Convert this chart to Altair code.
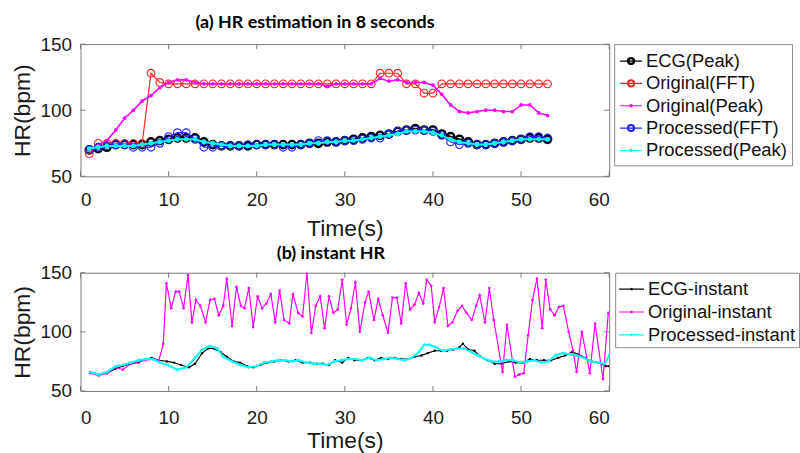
import altair as alt
import pandas as pd

# ---------------- (a) HR estimated over 8-second windows, one value per second
est_time = list(range(1, 54))
ecg_peak = [70, 71, 72, 74, 74, 74, 74, 76, 77, 78, 79, 79, 79, 76, 74, 73, 73, 73, 73, 74,
            74, 74, 74, 74, 74, 75, 75, 76, 76, 77, 78, 79, 80, 81, 82, 84, 85, 86, 85, 85,
            82, 80, 78, 76, 74, 74, 75, 76, 77, 78, 79, 79, 78]
orig_fft = [67, 75, 75, 75, 75, 75, 75, 128, 121, 120, 120, 120, 120, 120, 120, 120, 120, 120,
            120, 120, 120, 120, 120, 120, 120, 120, 120, 120, 120, 120, 120, 120, 120, 128, 128,
            128, 120, 120, 113, 113, 120, 120, 120, 120, 120, 120, 120, 120, 120, 120, 120, 120, 120]
orig_peak = [70, 73, 77, 85, 94, 100, 107, 111, 117, 121, 123, 123, 121, 120, 120, 120, 120, 120,
             120, 120, 120, 120, 120, 120, 120, 120, 120, 118, 120, 120, 120, 120, 120, 124, 122,
             123, 121, 121, 121, 119, 112, 104, 99, 98, 99, 100, 100, 99, 99, 104, 104, 98, 96]
proc_fft = [70, 72, 73, 74, 74, 72, 72, 72, 75, 80, 83, 83, 78, 72, 72, 73, 73, 73, 74, 74,
            74, 74, 72, 72, 74, 75, 77, 77, 76, 77, 77, 78, 79, 79, 82, 84, 85, 85, 85, 84,
            81, 76, 74, 75, 74, 74, 75, 76, 77, 78, 80, 80, 79]
proc_peak = [71, 72, 73, 73, 73, 73, 74, 75, 76, 77, 78, 78, 78, 76, 75, 74, 73, 73, 73, 73,
             74, 74, 74, 74, 74, 75, 75, 76, 76, 77, 77, 78, 79, 80, 81, 82, 84, 84, 84, 83,
             81, 78, 76, 75, 74, 74, 75, 76, 77, 78, 78, 78, 78]

# ---------------- (b) instantaneous HR, one value per detected beat
ecg_inst_t = [1.1, 2.1, 3.0, 4.0, 4.8, 5.7, 6.6, 7.4, 8.1, 8.9, 9.8, 10.6, 11.4, 12.3, 13.0,
              13.8, 14.5, 15.1, 15.9, 16.6, 17.4, 18.1, 18.9, 19.6, 20.4, 21.2, 22.0, 22.8,
              23.6, 24.4, 25.2, 26.0, 26.8, 27.5, 28.2, 28.9, 29.7, 30.4, 31.1, 31.9, 32.6,
              33.4, 34.1, 34.9, 35.6, 36.4, 37.2, 37.9, 38.7, 39.4, 40.2, 40.9, 41.6, 42.3,
              43.0, 43.4, 44.0, 44.7, 45.4, 46.2, 47.0, 47.8, 48.6, 49.4, 50.2, 51.0, 51.8,
              52.6, 53.4, 54.2, 55.0, 55.8, 56.5, 57.3, 58.0, 58.8, 59.6, 60.0]
ecg_inst = [66, 64, 65, 69, 71, 73, 74, 77, 78, 76, 75, 74, 72, 70, 73, 82, 86, 86, 83, 79,
            75, 74, 71, 70, 72, 74, 75, 76, 75, 76, 74, 74, 73, 73, 72, 76, 74, 78, 76, 76,
            78, 76, 78, 77, 78, 77, 77, 79, 80, 82, 84, 84, 84, 85, 87, 90, 85, 84, 79, 76,
            73, 73, 75, 74, 74, 77, 76, 76, 76, 78, 80, 83, 81, 78, 75, 74, 71, 71]

orig_inst_t = [1.1, 2.1, 3.0, 4.0, 4.8, 5.7, 6.6, 7.4, 8.3, 8.9, 9.4, 9.75, 10.3, 10.8, 11.2,
               11.7, 12.2, 12.65, 13.1, 13.6, 14.2, 14.7, 15.2, 15.7, 16.2, 16.6, 17.2, 17.7,
               18.2, 18.6, 19.1, 19.6, 20.1, 20.6, 21.1, 21.6, 22.1, 22.6, 23.1, 23.7, 24.1,
               24.7, 25.2, 25.7, 26.2, 26.7, 27.2, 27.7, 28.2, 28.7, 29.2, 29.7, 30.2, 30.7,
               31.2, 31.7, 32.3, 32.7, 33.3, 33.8, 34.3, 34.9, 35.4, 35.9, 36.4, 36.9, 37.4,
               37.9, 38.4, 38.9, 39.3, 39.8, 40.2, 40.7, 41.2, 41.7, 42.2, 42.8, 43.3, 43.8,
               44.4, 44.9, 45.3, 45.9, 46.4, 46.9, 47.9, 48.4, 49.3, 49.8, 50.3, 50.8, 51.3,
               51.8, 52.4, 52.8, 53.3, 53.8, 54.3, 54.8, 55.4, 55.9, 56.3, 56.9, 57.8, 58.4,
               59.3, 59.9]
orig_inst = [65, 63, 65, 70, 68, 73, 75, 76, 77, 76, 90, 141, 120, 134, 134, 120, 148, 108,
             127, 122, 108, 127, 128, 114, 122, 145, 105, 138, 122, 120, 137, 104, 130, 120,
             124, 132, 108, 135, 110, 107, 132, 116, 113, 150, 99, 122, 130, 103, 130, 116,
             119, 144, 106, 120, 142, 100, 125, 134, 110, 128, 114, 99, 129, 129, 107, 141,
             119, 123, 133, 124, 144, 139, 108, 121, 137, 105, 108, 118, 122, 116, 110, 122,
             131, 108, 137, 110, 66, 106, 62, 64, 65, 97, 127, 145, 103, 144, 119, 114, 121,
             122, 100, 84, 66, 100, 65, 107, 60, 116]

proc_inst_t = [1.1, 2.1, 3.0, 4.0, 4.9, 5.7, 6.6, 7.5, 8.2, 9.0, 9.9, 11.0, 12.0, 13.0, 13.8,
               14.7, 15.5, 16.2, 17.2, 18.1, 19.1, 20.0, 20.8, 21.6, 22.4, 23.2, 24.0, 24.8,
               25.6, 26.4, 27.2, 28.0, 28.8, 29.6, 30.4, 31.2, 32.0, 32.8, 33.6, 34.4, 35.2,
               36.0, 36.8, 37.6, 38.4, 39.0, 39.6, 40.3, 41.1, 41.9, 42.7, 43.5, 44.3, 45.1,
               45.9, 46.7, 47.5, 48.3, 49.1, 49.9, 50.7, 51.5, 52.3, 53.1, 53.9, 54.7, 55.5,
               56.3, 57.1, 57.9, 58.7, 59.5, 60.0]
proc_inst = [66, 64, 66, 71, 72, 74, 76, 77, 77, 74, 72, 68, 70, 78, 85, 88, 86, 79, 75, 72,
             70, 71, 74, 75, 76, 76, 75, 76, 74, 73, 73, 72, 75, 76, 77, 77, 76, 78, 76, 77,
             78, 77, 76, 78, 83, 89, 89, 87, 84, 85, 86, 86, 83, 80, 77, 75, 75, 76, 76, 74,
             75, 76, 74, 75, 80, 82, 81, 80, 78, 75, 74, 73, 80]

x_ticks = [0, 10, 20, 30, 40, 50, 60]
y_ticks = [50, 100, 150]

top_names = ["ECG(Peak)", "Original(FFT)", "Original(Peak)", "Processed(FFT)", "Processed(Peak)"]
top_values = [ecg_peak, orig_fft, orig_peak, proc_fft, proc_peak]
top_colors = ["#000000", "#ff2424", "#ff00ff", "#2424ff", "#00ffff"]

bot_names = ["ECG-instant", "Original-instant", "Processed-instant"]
bot_times = [ecg_inst_t, orig_inst_t, proc_inst_t]
bot_values = [ecg_inst, orig_inst, proc_inst]
bot_colors = ["#000000", "#ff00ff", "#00ffff"]

FONT = "Liberation Sans"
BORDER = "#7a7a7a"
W = 532
H_TOP = 133
H_BOT = 119


def ring_path(r_out, r_in):
    """Legend glyph: a horizontal line segment with a ring (annulus) in the middle."""
    outer = (f"M{r_out},0A{r_out},{r_out},0,1,1,{-r_out},0"
             f"A{r_out},{r_out},0,1,1,{r_out},0Z")
    inner = (f"M{r_in},0A{r_in},{r_in},0,1,0,{-r_in},0"
             f"A{r_in},{r_in},0,1,0,{r_in},0Z")
    return "M-1,0H1" + outer + inner


def dot_path(r):
    """Legend glyph: a horizontal line segment with a small dot in the middle."""
    return f"M-1,0H1M{r},0A{r},{r},0,1,1,{-r},0A{r},{r},0,1,1,{r},0Z"


top_df = pd.DataFrame([
    {"t": t, "hr": v, "series": name}
    for name, vals in zip(top_names, top_values)
    for t, v in zip(est_time, vals)
])
bot_df = pd.DataFrame([
    {"t": t, "hr": v, "series": name}
    for name, ts, vals in zip(bot_names, bot_times, bot_values)
    for t, v in zip(ts, vals)
])
xt_df = pd.DataFrame({"t": x_ticks})
yt_df = pd.DataFrame({"hr": y_ticks})


def axes_enc(xpad):
    x = alt.X("t:Q", scale=alt.Scale(domain=[0, 60], nice=False, zero=False),
              axis=alt.Axis(values=x_ticks, title="Time(s)", format="d",
                            labelPadding=xpad[0], titlePadding=xpad[1]))
    y = alt.Y("hr:Q", scale=alt.Scale(domain=[50, 150], nice=False, zero=False),
              axis=alt.Axis(values=y_ticks, title="HR(bpm)", format="d"))
    return x, y


def inner_ticks(height, xpad):
    """MATLAB-style inward ticks on all four sides of the box."""
    x, y = axes_enc(xpad)
    tl = 5
    top_t = alt.Chart(xt_df).mark_rule(color=BORDER, strokeWidth=1).encode(
        x=x, y=alt.value(0), y2=alt.value(tl))
    bot_t = alt.Chart(xt_df).mark_rule(color=BORDER, strokeWidth=1).encode(
        x=x, y=alt.value(height), y2=alt.value(height - tl))
    left_t = alt.Chart(yt_df).mark_rule(color=BORDER, strokeWidth=1).encode(
        y=y, x=alt.value(0), x2=alt.value(tl))
    right_t = alt.Chart(yt_df).mark_rule(color=BORDER, strokeWidth=1).encode(
        y=y, x=alt.value(W - tl), x2=alt.value(W))
    return [top_t, bot_t, left_t, right_t]


def panel(df, names, colors, styles, symbols, sym_size, legend_kw, height, title, xpad):
    x, y = axes_enc(xpad)
    color_scale = alt.Scale(domain=names, range=colors)
    legend = alt.Legend(title=None, **legend_kw)
    # legend-only layer: no rows, entries come from the explicit scale domains
    legend_layer = alt.Chart(df).transform_filter("false").mark_point(
        filled=True, opacity=1, strokeWidth=1.2, size=sym_size
    ).encode(
        x=x, y=y,
        color=alt.Color("series:N", scale=color_scale, legend=legend),
        shape=alt.Shape("series:N", scale=alt.Scale(domain=names, range=symbols), legend=legend),
    )
    layers = [legend_layer]
    for name, st in zip(names, styles):
        base = alt.Chart(df).transform_filter(alt.datum.series == name)
        col = alt.Color("series:N", scale=color_scale, legend=None)
        layers.append(base.mark_line(strokeWidth=st["lw"], clip=True).encode(
            x=x, y=y, color=col, order="t:Q"))
        layers.append(base.mark_point(
            shape="circle", filled=st["filled"], size=st["size"],
            strokeWidth=st["msw"], opacity=1, clip=True
        ).encode(x=x, y=y, color=col))
    layers += inner_ticks(height, xpad)
    return alt.layer(*layers).properties(width=W, height=height, title=title)


top_styles = [
    {"lw": 2.0, "filled": False, "size": 55, "msw": 2.4},
    {"lw": 1.2, "filled": False, "size": 60, "msw": 1.1},
    {"lw": 1.6, "filled": True, "size": 14, "msw": 1},
    {"lw": 1.2, "filled": False, "size": 60, "msw": 1.1},
    {"lw": 2.0, "filled": True, "size": 24, "msw": 1},
]
top_symbols = [ring_path(0.32, 0.22), ring_path(0.32, 0.24), dot_path(0.1),
               ring_path(0.32, 0.24), dot_path(0.1)]

bot_styles = [
    {"lw": 1.1, "filled": True, "size": 6, "msw": 1},
    {"lw": 1.2, "filled": True, "size": 7, "msw": 1},
    {"lw": 2.0, "filled": True, "size": 8, "msw": 1},
]
bot_symbols = [dot_path(0.06), dot_path(0.06), dot_path(0.06)]

legend_common = dict(labelFont=FONT, labelFontSize=18.5, labelColor="#111",
                     strokeColor="#8a8a8a", fillColor="white", labelOffset=3,
                     symbolStrokeWidth=1.2, orient="right")

top = panel(
    top_df, top_names, top_colors, top_styles, top_symbols, 484,
    dict(legend_common, padding=5, rowPadding=0.5, offset=5, symbolSize=484),
    H_TOP,
    alt.TitleParams("(a) HR estimation in 8 seconds", font="Lato", fontSize=18,
                    fontWeight="bold", color="#000", anchor="middle", frame="group",
                    dx=-30, offset=3),
    (14, 9),
)
bottom = panel(
    bot_df, bot_names, bot_colors, bot_styles, bot_symbols, 625,
    dict(legend_common, padding=3, rowPadding=0, offset=6, symbolSize=625),
    H_BOT,
    alt.TitleParams("(b) instant HR", font="Lato", fontSize=18,
                    fontWeight="bold", color="#000", anchor="middle", frame="group",
                    dx=-14, offset=1),
    (18, 2),
)

chart = alt.vconcat(top, bottom, spacing=2).resolve_scale(
    color="independent", shape="independent"
).configure(
    padding={"left": 10, "top": 12, "right": 0, "bottom": 0},
    autosize=alt.AutoSizeParams(type="pad"),
    background="white",
).configure_view(
    stroke=BORDER, strokeWidth=1
).configure_axis(
    grid=False, domain=False, ticks=False,
    labelFont=FONT, labelFontSize=19, labelColor="#1a1a1a",
    titleFont=FONT, titleFontSize=23, titleFontWeight="normal", titleColor="#1a1a1a",
).configure_axisY(
    labelPadding=9, titlePadding=6,
)

chart.save("out.html", embed_options={"renderer": "svg", "actions": False})
